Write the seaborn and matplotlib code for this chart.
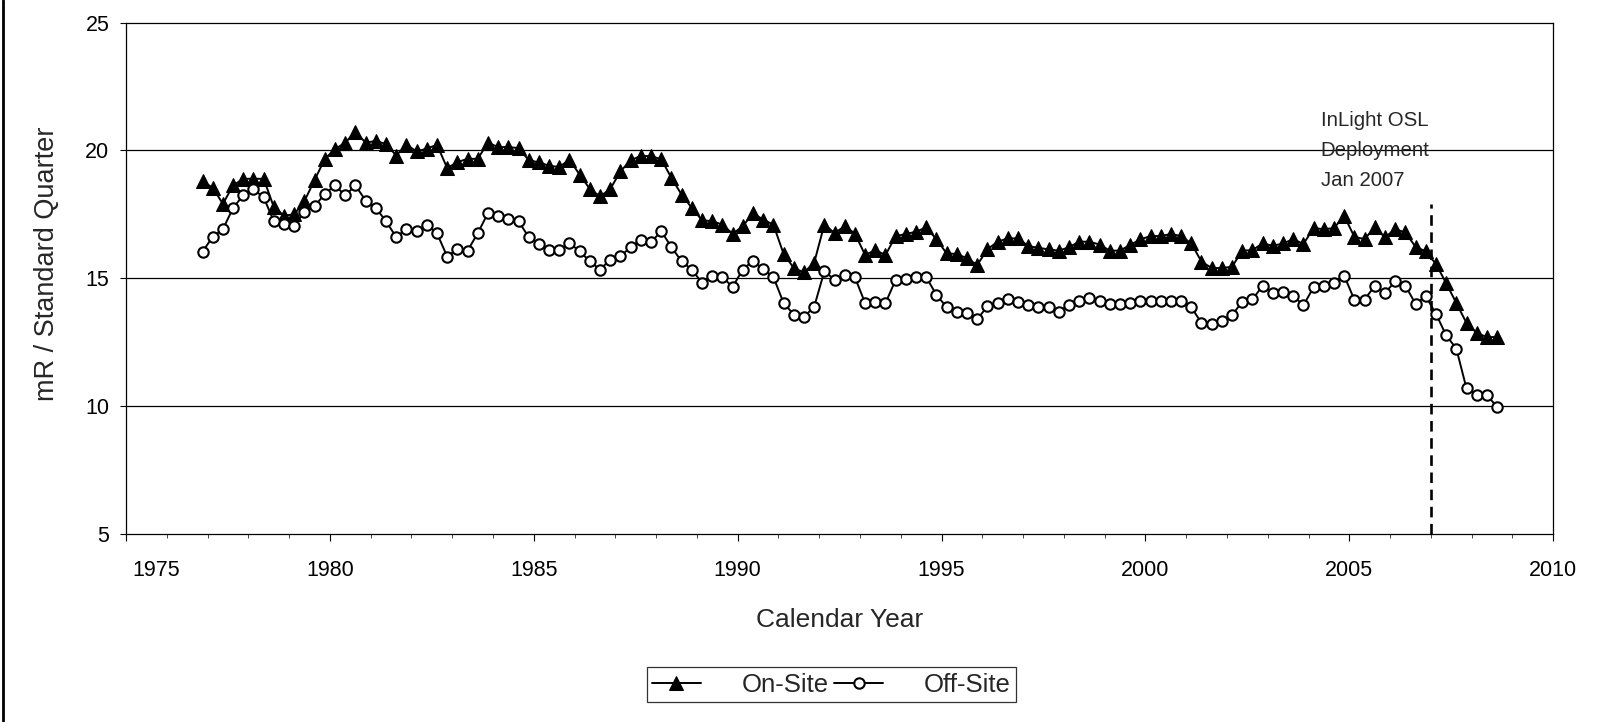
import numpy as np
import pandas as pd
import matplotlib
matplotlib.use('Agg')
import matplotlib.pyplot as plt
import matplotlib.transforms as mtransforms
import seaborn as sns
from matplotlib.lines import Line2D

# quarterly exposure data, Q4 1976 .. Q3 2008
quarters = pd.period_range('1976Q4', '2008Q3', freq='Q')

on_site = [18.79, 18.54, 17.91, 18.63, 18.89, 18.89, 18.89, 17.78, 17.45, 17.50,
           18.02, 18.85, 19.67, 20.05, 20.30, 20.73, 20.30, 20.37, 20.25, 19.80,
           20.22, 19.96, 20.07, 20.22, 19.31, 19.54, 19.67, 19.67, 20.30, 20.13,
           20.13, 20.09, 19.62,
           19.53, 19.40, 19.35, 19.64, 19.05, 18.49, 18.20, 18.49, 19.18, 19.61,
           19.79, 19.77, 19.66, 18.92, 18.27, 17.75, 17.27, 17.23, 17.10, 16.74,
           17.03, 17.55, 17.29, 17.10, 15.96, 15.40, 15.23, 15.60, 17.10, 16.77,
           17.03, 16.75,
           15.91, 16.10, 15.91, 16.65, 16.73, 16.82, 16.99, 16.52, 15.97, 15.95,
           15.78, 15.52, 16.13, 16.43, 16.56, 16.56, 16.26, 16.19, 16.13, 16.08,
           16.21, 16.43, 16.43, 16.32, 16.08, 16.08, 16.30, 16.52, 16.65, 16.65,
           16.73, 16.65,
           16.36, 15.65, 15.40, 15.40, 15.45, 16.08, 16.10, 16.36, 16.27, 16.36,
           16.53, 16.34, 16.96, 16.92, 16.96, 17.44, 16.62, 16.53, 16.99, 16.60,
           16.92, 16.79, 16.23, 16.05, 15.56, 14.81, 14.03, 13.25, 12.86, 12.70,
           12.70]

off_site = [16.04, 16.62, 16.92, 17.75, 18.25, 18.48, 18.16, 17.22, 17.13, 17.06,
            17.61, 17.82, 18.30, 18.63, 18.24, 18.63, 18.04, 17.75, 17.23, 16.61,
            16.93, 16.83, 17.09, 16.76, 15.85, 16.15, 16.08, 16.76, 17.55, 17.45,
            17.32, 17.23, 16.61,
            16.35, 16.12, 16.12, 16.38, 16.05, 15.66, 15.34, 15.73, 15.86, 16.22,
            16.51, 16.41, 16.84, 16.22, 15.66, 15.34, 14.82, 15.10, 15.05, 14.66,
            15.34, 15.69, 15.36, 15.05, 14.04, 13.58, 13.49, 13.88, 15.27, 14.95,
            15.12, 15.04,
            14.03, 14.09, 14.03, 14.94, 14.96, 15.04, 15.04, 14.35, 13.87, 13.70,
            13.64, 13.40, 13.90, 14.03, 14.18, 14.09, 13.96, 13.87, 13.87, 13.70,
            13.96, 14.13, 14.21, 14.13, 13.99, 14.00, 14.05, 14.13, 14.13, 14.13,
            14.13, 14.13,
            13.87, 13.25, 13.22, 13.32, 13.55, 14.09, 14.17, 14.71, 14.42, 14.45,
            14.32, 13.94, 14.65, 14.68, 14.81, 15.10, 14.16, 14.16, 14.71, 14.42,
            14.88, 14.71, 14.00, 14.30, 13.61, 12.77, 12.25, 10.69, 10.43, 10.43,
            9.97]

deploy_year = 2007.0
deploy_text = 'InLight OSL\nDeployment\nJan 2007'
y_ticks = [5, 10, 15, 20, 25]
x_ticks = [1975, 1980, 1985, 1990, 1995, 2000, 2005, 2010]

# mid-quarter position as decimal year
year = [p.year + (p.quarter - 0.5) / 4 for p in quarters]
df = pd.DataFrame({'year': year, 'On-Site': on_site, 'Off-Site': off_site})

sns.set_theme(style='white')
plt.rcParams['font.family'] = ['Liberation Sans', 'DejaVu Sans']

fig = plt.figure(figsize=(16.04, 7.22), dpi=100)
ax = fig.add_axes([0.0786, 0.2604, 0.8897, 0.7084])

sns.lineplot(data=df, x='year', y='On-Site', ax=ax, color='black', lw=1.4,
             marker='^', markersize=10, markerfacecolor='black',
             markeredgecolor='black', label='On-Site', zorder=3)
sns.lineplot(data=df, x='year', y='Off-Site', ax=ax, color='black', lw=1.4,
             marker='o', markersize=7.5, markerfacecolor='white',
             markeredgecolor='black', markeredgewidth=1.5, label='Off-Site', zorder=4)

ax.plot([deploy_year, deploy_year], [5, 17.9], color='black', lw=1.9,
        dashes=(4, 2.5), zorder=2)
ax.text(2004.3, 20.0, deploy_text, fontsize=14.7, ha='left', va='center',
        linespacing=1.75)

ax.set_xlim(1975, 2010)
ax.set_ylim(5, 25)
ax.set_xticks(x_ticks)
ax.set_yticks(y_ticks)
ax.set_xticks(np.arange(1975, 2011, 1), minor=True)
ax.tick_params(axis='both', labelsize=15.5, colors='black')
ax.tick_params(axis='x', which='major', direction='out', length=5, width=0.8,
               bottom=True, pad=13.5)
ax.tick_params(axis='x', which='minor', direction='out', length=3, width=0.6,
               bottom=True)
ax.tick_params(axis='y', which='major', direction='out', length=4, width=0.8,
               left=True, pad=8)

# first year label sits a little right of the axis corner in the original
first = ax.xaxis.get_major_ticks()[0].label1
first.set_transform(first.get_transform() +
                    mtransforms.ScaledTranslation(22 / 72, 0, fig.dpi_scale_trans))

for y in [10, 15, 20]:
    ax.axhline(y, color='black', lw=0.9, zorder=1)
for s in ax.spines.values():
    s.set_color('black')
    s.set_linewidth(0.9)

ax.set_xlabel('Calendar Year', fontsize=19)
ax.set_ylabel('mR / Standard Quarter', fontsize=19.5)
ax.xaxis.set_label_coords(0.5, -0.145)
ax.yaxis.set_label_coords(-0.046, 0.529)

leg = ax.legend(loc='center', bbox_to_anchor=(0.5184, 0.0519),
                bbox_transform=fig.transFigure, ncol=2, fontsize=18.5,
                frameon=True, fancybox=False, edgecolor='black',
                handlelength=1.9, handletextpad=1.6, columnspacing=0.2,
                borderpad=0.2, borderaxespad=0)
leg.get_frame().set_linewidth(0.9)

fig.add_artist(Line2D([0.002, 0.002], [0.0, 1.0], color='black', lw=2,
                      transform=fig.transFigure))

fig.savefig('out.png', dpi=100, facecolor='white')
